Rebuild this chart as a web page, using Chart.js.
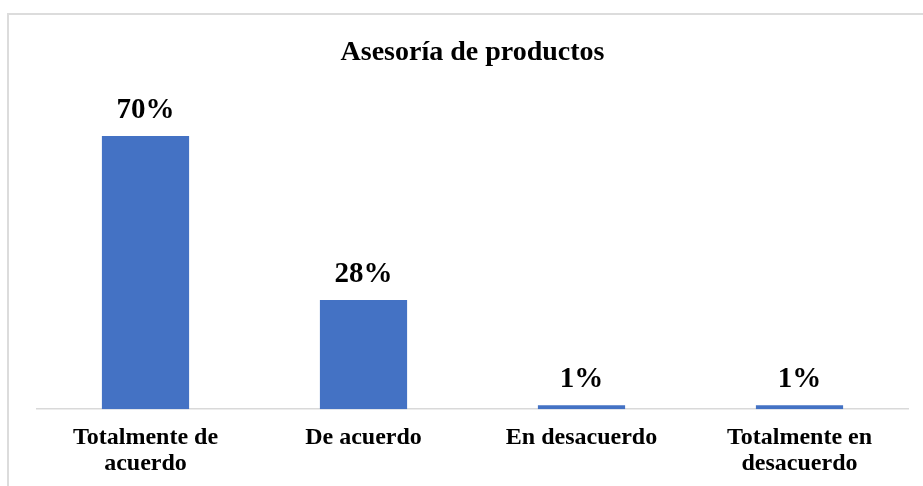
<!DOCTYPE html>
<html>
    <head>
        <meta charset="utf-8">
        <title>Asesoría de productos</title>
        <script src="https://cdn.jsdelivr.net/npm/chart.js@4.4.0/dist/chart.umd.min.js"></script>
        <style>
            html, body { margin: 0; padding: 0; background: #fff; overflow: hidden; }
            #frame {
                position: absolute; left: 7px; top: 13px;
                width: 1000px; height: 600px;
                border: 2px solid #dcdcdc;
            }
            #chart { position: absolute; left: 0; top: 0; }
        </style>
    </head>
    <body>
        <div id="frame"></div>
        <canvas id="chart" width="923" height="486"></canvas>

        <script>
            const categorias = [
                ['Totalmente de', 'acuerdo'],
                'De acuerdo',
                'En desacuerdo',
                ['Totalmente en', 'desacuerdo']
            ];
            const porcentajes = [70, 28, 1, 1];

            const serif = "'Liberation Serif', 'Times New Roman', serif";

            // escribe el porcentaje encima de cada barra
            const etiquetas = {
                id: 'etiquetas',
                afterDatasetsDraw(chart) {
                    const ctx = chart.ctx;
                    const meta = chart.getDatasetMeta(0);
                    ctx.save();
                    ctx.font = 'bold 29px ' + serif;
                    ctx.fillStyle = '#000';
                    ctx.textAlign = 'center';
                    ctx.textBaseline = 'alphabetic';
                    meta.data.forEach((bar, i) => {
                        ctx.fillText(porcentajes[i] + '%', bar.x, bar.y - 18);
                    });
                    ctx.restore();
                }
            };

            const ctx = document.getElementById('chart').getContext('2d');
            const myChart = new Chart(ctx, {
                type: 'bar',
                data: {
                    labels: categorias,
                    datasets: [{
                        data: porcentajes,
                        backgroundColor: '#4472C4',
                        borderWidth: 0,
                        categoryPercentage: 1,
                        barPercentage: 0.4
                    }]
                },
                options: {
                    responsive: false,
                    animation: false,
                    layout: {
                        padding: { left: 36.5, right: 14.5, top: 0, bottom: -6 }
                    },
                    plugins: {
                        legend: { display: false },
                        tooltip: { enabled: false },
                        title: {
                            display: true,
                            text: 'Asesoría de productos',
                            color: '#000',
                            font: { family: serif, size: 28, weight: 'bold', lineHeight: 1.2 },
                            padding: { top: 36.3, bottom: 27.1 }
                        }
                    },
                    scales: {
                        x: {
                            grid: { display: false, drawTicks: false },
                            border: { display: true, color: '#d9d9d9', width: 1.5 },
                            ticks: {
                                color: '#000',
                                padding: 15,
                                maxRotation: 0,
                                autoSkip: false,
                                font: { family: serif, size: 24, weight: 'bold', lineHeight: 1.1 }
                            }
                        },
                        y: {
                            display: false,
                            min: 0,
                            max: 80
                        }
                    }
                },
                plugins: [etiquetas]
            });
        </script>
    </body>
</html>
